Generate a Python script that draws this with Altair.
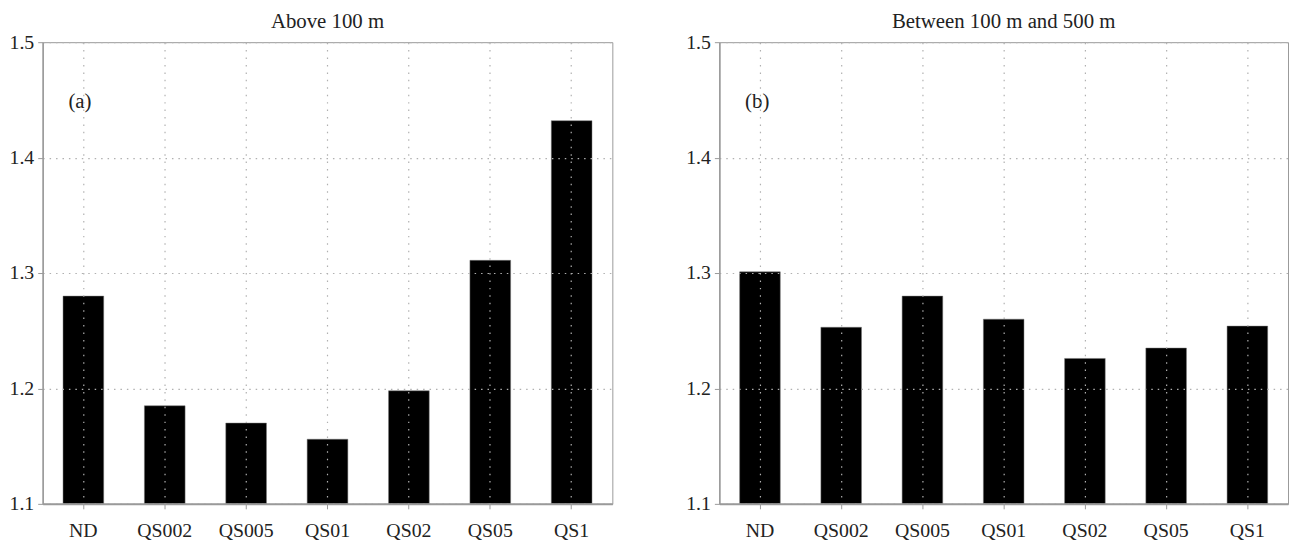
import altair as alt
import pandas as pd

CATEGORIES = ["ND", "QS002", "QS005", "QS01", "QS02", "QS05", "QS1"]
VALUES_A = [1.280, 1.185, 1.170, 1.156, 1.198, 1.311, 1.432]
VALUES_B = [1.301, 1.253, 1.280, 1.260, 1.226, 1.235, 1.254]
TITLE_A = "Above 100 m"
TITLE_B = "Between 100 m and 500 m"
TAG_A = "(a)"
TAG_B = "(b)"
Y_MIN, Y_MAX = 1.1, 1.5
Y_TICKS = [1.1, 1.2, 1.3, 1.4, 1.5]

FONT = "Liberation Serif"
GRID = "#b0b0b0"
AXIS = "#9a9a9a"


def panel(values, title, tag, width):
    df = pd.DataFrame({"cat": CATEGORIES, "val": values, "base": [Y_MIN] * len(values)})
    x = alt.X(
        "cat:N",
        sort=CATEGORIES,
        scale=alt.Scale(paddingInner=0.5, paddingOuter=0.25),
        axis=alt.Axis(
            title=None, labelAngle=0, labelFont=FONT, labelFontSize=20,
            labelColor="#222", labelPadding=12, tickSize=5, tickColor=AXIS,
            domainColor=AXIS, domainWidth=2, grid=True, gridColor=GRID,
            gridDash=[1.5, 6], gridWidth=1.2, bandPosition=0.5, zindex=1,
        ),
    )
    y = alt.Y(
        "val:Q",
        scale=alt.Scale(domain=[Y_MIN, Y_MAX], zero=False, nice=False),
        axis=alt.Axis(
            title=None, values=Y_TICKS, format=".1f", labelFont=FONT,
            labelFontSize=20, labelColor="#222", labelPadding=4, tickSize=5,
            tickColor=AXIS, domainColor=AXIS, domainWidth=1.5, grid=True,
            gridColor=GRID, gridDash=[1.5, 5], gridWidth=1.2, zindex=1,
            minExtent=34, maxExtent=34,
        ),
    )
    bars = alt.Chart(df).mark_bar(color="black", stroke="#777", strokeWidth=0.5).encode(
        x=x, y=y, y2="base:Q"
    )
    tag_df = pd.DataFrame({"t": [tag]})
    label = alt.Chart(tag_df).mark_text(
        font=FONT, fontSize=21, color="#222", align="left", baseline="middle"
    ).encode(text="t:N", x=alt.value(26), y=alt.value(60))
    return alt.layer(bars, label).properties(
        width=width,
        height=466,
        title=alt.TitleParams(
            text=title, font=FONT, fontSize=21, fontWeight="normal",
            color="#222", offset=0,
        ),
    )


left = panel(VALUES_A, TITLE_A, TAG_A, 575)
right = panel(VALUES_B, TITLE_B, TAG_B, 574)

chart = (
    alt.hconcat(left, right, spacing=72)
    .properties(padding=0)
    .configure_view(stroke=AXIS, strokeWidth=1)
)

chart.save("out.html", embed_options={"renderer": "svg", "actions": False})
